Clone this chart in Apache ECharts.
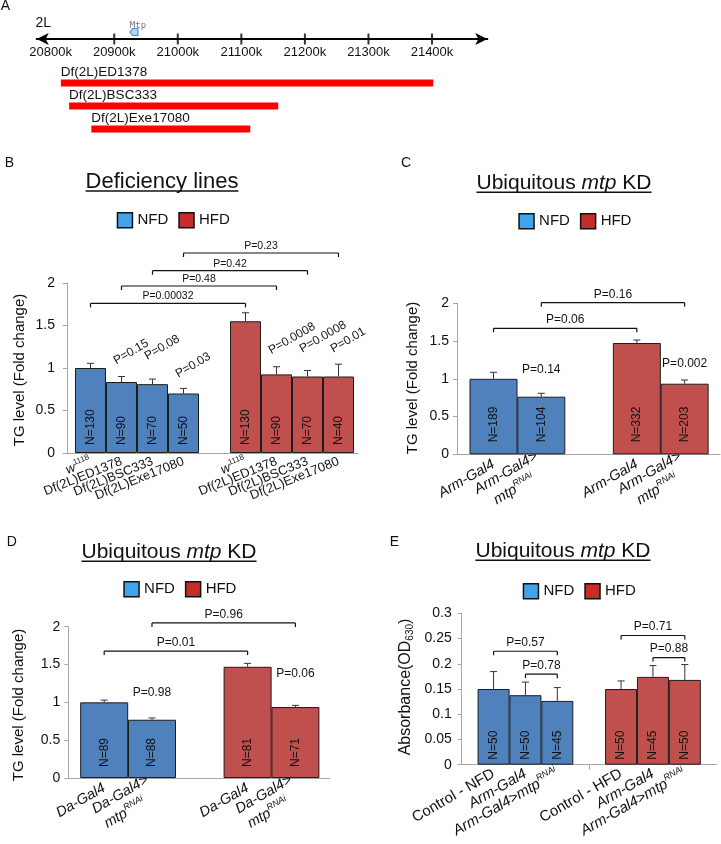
<!DOCTYPE html>
<html><head><meta charset="utf-8">
<script src="https://cdn.jsdelivr.net/npm/echarts@6/dist/echarts.min.js"></script>
<style>html,body{margin:0;padding:0;background:#fff}#c{width:721px;height:844px}</style>
</head><body><div id="c"></div>
<script>
// ---------- Panel A data ----------
const regionTicks = [20900, 21000, 21100, 21200, 21300, 21400];
const regionLabels = [20800, 20900, 21000, 21100, 21200, 21300, 21400];
const dfNames = ['Df(2L)ED1378', 'Df(2L)BSC333', 'Df(2L)Exe17080'];
const dfStart = [20816, 20829, 20864];
const dfEnd = [21402, 21158, 21114];
const mtpPos = 20931;

// ---------- Panel B data ----------
const bCats = ['w1118', 'Df(2L)ED1378', 'Df(2L)BSC333', 'Df(2L)Exe17080'];
const bNfd = [1.00, 0.835, 0.81, 0.70];
const bNfdErr = [0.055, 0.065, 0.06, 0.06];
const bHfd = [1.55, 0.925, 0.90, 0.90];
const bHfdErr = [0.10, 0.09, 0.07, 0.145];
const bNfdN = [130, 90, 70, 50];
const bHfdN = [130, 90, 70, 40];
const bNfdP = ['', 'P=0.15', 'P=0.08', 'P=0.03'];
const bNfdPy = [0, 1.015, 1.067, 0.859];
const bHfdP = ['', 'P=0.0008', 'P=0.0008', 'P=0.01'];
const bHfdPy = [0, 1.133, 1.153, 1.153];
const bPairP = ['P=0.00032', 'P=0.48', 'P=0.42', 'P=0.23'];
const bPairY = [1.76, 1.965, 2.145, 2.353];

// ---------- Panel C data ----------
const cCats = ['Arm-Gal4', 'Arm-Gal4>mtpRNAi'];
const cNfd = [1.00, 0.763];
const cNfdErr = [0.086, 0.045];
const cHfd = [1.474, 0.935];
const cHfdErr = [0.04, 0.049];
const cNfdN = [189, 104];
const cHfdN = [332, 203];
const cNfdP = ['', 'P=0.14'];
const cNfdPy = [0, 1.126];
const cHfdP = ['', 'P=0.002'];
const cHfdPy = [0, 1.205];
const cPairP = ['P=0.06', 'P=0.16'];
const cPairY = [1.669, 2.008];

// ---------- Panel D data ----------
const dCats = ['Da-Gal4', 'Da-Gal4>mtpRNAi'];
const dNfd = [1.00, 0.77];
const dNfdErr = [0.03, 0.023];
const dHfd = [1.47, 0.938];
const dHfdErr = [0.045, 0.022];
const dNfdN = [89, 88];
const dHfdN = [81, 71];
const dNfdP = ['', 'P=0.98'];
const dNfdPy = [0, 1.132];
const dHfdP = ['', 'P=0.06'];
const dHfdPy = [0, 1.374];
const dPairP = ['P=0.01', 'P=0.96'];
const dPairY = [1.678, 2.05];

// ---------- Panel E data ----------
const eCatsNfd = ['Control - NFD', 'Arm-Gal4', 'Arm-Gal4>mtpRNAi'];
const eCatsHfd = ['Control - HFD', 'Arm-Gal4', 'Arm-Gal4>mtpRNAi'];
const eNfd = [0.150, 0.1377, 0.1264];
const eNfdErr = [0.0345, 0.026, 0.0264];
const eHfd = [0.150, 0.174, 0.168];
const eHfdErr = [0.016, 0.0224, 0.0304];
const eNfdN = [50, 50, 45];
const eHfdN = [50, 45, 50];
const ePairIdx = [[0, 2], [1, 2]];
const eNfdPairP = ['P=0.57', 'P=0.78'];
const eNfdPairY = [0.2248, 0.1794];
const eHfdPairP = ['P=0.71', 'P=0.88'];
const eHfdPairY = [0.256, 0.2123];

// ---------- styling ----------
const FF = '"Liberation Sans", Arial, sans-serif';
const BLUE = '#4F81BD', RED = '#C0504D', LBLUE = '#41A3EC', LRED = '#C72C2A';
const INK = '#111', AXIS = '#A6A6A6', BORDER = '#1c1c1c';

const grids = [], xAxes = [], yAxes = [], series = [], legends = [], graphics = [];

// ---------- Panel A ----------
grids.push({left: 36.7, top: 20, width: 450.6, height: 19, outerBoundsMode: 'none'});
xAxes.push({gridIndex: 0, type: 'value', min: 20778, max: 21487,
  axisLine: {show: true, symbol: ['arrow', 'arrow'], symbolSize: [9, 12], lineStyle: {color: '#000', width: 2}},
  axisTick: {show: false}, splitLine: {show: false},
  axisLabel: {customValues: regionLabels, showMinLabel: true, showMaxLabel: true,
    formatter: v => v + 'k', fontSize: 13, color: INK, margin: 7, fontFamily: FF}});
yAxes.push({gridIndex: 0, type: 'value', min: 0, max: 1, show: false});
series.push({type: 'scatter', xAxisIndex: 0, yAxisIndex: 0, silent: true, clip: false,
  data: regionTicks.map(v => [v, 0]), symbol: 'rect', symbolSize: [2, 11], itemStyle: {color: '#000'}});
series.push({type: 'scatter', xAxisIndex: 0, yAxisIndex: 0, silent: true, clip: false,
  data: [[mtpPos, 0]], symbol: 'path://M0,5L4,0L12,0L12,10L4,10Z', symbolSize: [8, 7], symbolOffset: [0, -7],
  itemStyle: {color: '#9DCDF2', borderColor: '#2B6FC6', borderWidth: 1},
  label: {show: true, position: 'top', distance: 1, offset: [4, 3], formatter: 'Mtp',
    fontFamily: '"DejaVu Sans Mono", monospace', fontSize: 9, color: '#555'}});

grids.push({left: 36.7, top: 71.5, width: 450.6, height: 69, outerBoundsMode: 'none'});
xAxes.push({gridIndex: 1, type: 'value', min: 20778, max: 21487, show: false});
yAxes.push({gridIndex: 1, type: 'category', data: dfNames, inverse: true, show: false});
series.push({type: 'custom', xAxisIndex: 1, yAxisIndex: 1, silent: true,
  data: dfNames.map((n, i) => [dfStart[i], dfEnd[i], i]), encode: {x: [0, 1], y: 2},
  renderItem: (params, api) => {
    const s = api.coord([api.value(0), api.value(2)]);
    const e = api.coord([api.value(1), api.value(2)]);
    return {type: 'group', children: [
      {type: 'rect', shape: {x: s[0], y: s[1] - 3.5, width: e[0] - s[0], height: 7}, style: {fill: '#FF0000'}},
      {type: 'text', x: s[0], y: s[1] - 10.5, style: {text: dfNames[params.dataIndex], fontSize: 13.5,
        fontFamily: FF, fill: INK, align: 'left', verticalAlign: 'middle'}}
    ]};
  }});

// ---------- bar panel builder ----------
function barPanel(p) {
  const gi = grids.length;
  grids.push({left: p.left, top: p.top, width: p.width, height: p.height, outerBoundsMode: 'none'});
  xAxes.push({gridIndex: gi, type: 'value', min: p.xmin, max: p.xmax, splitLine: {show: false},
    axisLine: {show: true, onZero: false, lineStyle: {color: AXIS, width: 1}},
    axisTick: p.xTicks ? {show: true, customValues: p.xTicks, length: 5, lineStyle: {color: AXIS}} : {show: false},
    axisLabel: {show: false}});
  yAxes.push({gridIndex: gi, type: 'value', min: 0, max: p.ymax, interval: p.yInt, splitLine: {show: false},
    axisLine: {show: true, onZero: false, lineStyle: {color: AXIS}},
    axisTick: {show: true, length: 4, lineStyle: {color: AXIS}},
    axisLabel: {fontSize: 14, color: INK, margin: p.yMargin, fontFamily: FF, showMinLabel: true, showMaxLabel: true}});
  const common = {xAxisIndex: gi, yAxisIndex: gi, silent: true};
  series.push(Object.assign({type: 'bar', name: 'NFD', barWidth: p.bw, barGap: '-100%',
    data: p.nfdX.map((x, i) => [x, p.nfd[i]]),
    itemStyle: {color: BLUE, borderColor: BORDER, borderWidth: 1}}, common));
  series.push(Object.assign({type: 'bar', name: 'HFD', barWidth: p.bw, barGap: '-100%',
    data: p.hfdX.map((x, i) => [x, p.hfd[i]]),
    itemStyle: {color: RED, borderColor: BORDER, borderWidth: 1}}, common));
  // category labels under the axis (rotated, rich)
  const allX = p.nfdX.concat(p.hfdX);
  const allLabels = p.nfdLabels.concat(p.hfdLabels);
  series.push(Object.assign({type: 'custom', z: 4, data: allX.map(x => [x, 0]), encode: {x: 0, y: 1},
    renderItem: (params, api) => {
      const a = api.coord([api.value(0), 0]);
      return {type: 'text', x: a[0], y: a[1] + p.xMargin, rotation: p.rot * Math.PI / 180,
        style: {text: allLabels[params.dataIndex], rich: p.rich, fontSize: p.xFont, fontFamily: FF, fill: INK,
          align: 'right', verticalAlign: 'middle'}};
    }}, common));
  // error bars (upper)
  const errData = p.nfdX.map((x, i) => [x, p.nfd[i], p.nfd[i] + p.nfdErr[i]])
    .concat(p.hfdX.map((x, i) => [x, p.hfd[i], p.hfd[i] + p.hfdErr[i]]));
  series.push(Object.assign({type: 'custom', z: 3, data: errData, encode: {x: 0, y: [1, 2]},
    renderItem: (params, api) => {
      const a = api.coord([api.value(0), api.value(1)]);
      const b = api.coord([api.value(0), api.value(2)]);
      return {type: 'group', children: [
        {type: 'line', shape: {x1: a[0], y1: a[1], x2: b[0], y2: b[1]}, style: {stroke: '#333', lineWidth: 1}},
        {type: 'line', shape: {x1: b[0] - 3.5, y1: b[1], x2: b[0] + 3.5, y2: b[1]}, style: {stroke: '#333', lineWidth: 1}}
      ]};
    }}, common));
  // N labels
  const nText = p.nfdN.concat(p.hfdN).map(n => 'N=' + n);
  series.push(Object.assign({type: 'custom', z: 4, data: allX.map(x => [x, 0]), encode: {x: 0, y: 1},
    renderItem: (params, api) => {
      const a = api.coord([api.value(0), 0]);
      return {type: 'text', x: a[0], y: a[1] - p.nGap, rotation: Math.PI / 2,
        style: {text: nText[params.dataIndex], fontSize: 12, fontFamily: FF, fill: INK, align: 'left', verticalAlign: 'middle'}};
    }}, common));
  // single p-values
  const singles = [];
  p.nfdX.forEach((x, i) => { if (p.nfdP[i]) singles.push([x, p.nfdPy[i], p.nfdP[i]]); });
  p.hfdX.forEach((x, i) => { if (p.hfdP[i]) singles.push([x, p.hfdPy[i], p.hfdP[i]]); });
  if (singles.length) series.push(Object.assign({type: 'custom', z: 4, data: singles.map(s => [s[0], s[1]]), encode: {x: 0, y: 1},
    renderItem: (params, api) => {
      const a = api.coord([api.value(0), api.value(1)]);
      const rot = p.pRot || 0;
      return {type: 'text', x: a[0] + (rot ? p.pDx : 0), y: a[1], rotation: rot * Math.PI / 180,
        style: {text: singles[params.dataIndex][2], fontSize: 12, fontFamily: FF, fill: INK,
          align: rot ? 'left' : 'center', verticalAlign: rot ? 'bottom' : 'middle'}};
    }}, common));
  // brackets
  const pairs = p.pairs;
  series.push(Object.assign({type: 'custom', z: 4, data: pairs.map(q => [q[0], q[1], q[2]]), encode: {x: [0, 1], y: 2},
    renderItem: (params, api) => {
      const a = api.coord([api.value(0), api.value(2)]);
      const b = api.coord([api.value(1), api.value(2)]);
      const st = {stroke: INK, lineWidth: 1.2};
      return {type: 'group', children: [
        {type: 'line', shape: {x1: a[0], y1: a[1], x2: b[0], y2: b[1]}, style: st},
        {type: 'line', shape: {x1: a[0], y1: a[1], x2: a[0], y2: a[1] + 4}, style: st},
        {type: 'line', shape: {x1: b[0], y1: b[1], x2: b[0], y2: b[1] + 4}, style: st},
        {type: 'text', x: (a[0] + b[0]) / 2, y: a[1] - p.pairLift, style: {text: pairs[params.dataIndex][3],
          fontSize: p.pairFont, fontFamily: FF, fill: INK, align: 'center', verticalAlign: 'bottom'}}
      ]};
    }}, common));
  legends.push({left: p.legLeft, top: p.legTop, icon: 'rect', itemWidth: 15, itemHeight: 15, itemGap: 10,
    selectedMode: false, textStyle: {fontSize: 15, color: INK, fontFamily: FF},
    data: [{name: 'NFD', itemStyle: {color: LBLUE, borderColor: '#111', borderWidth: 1.5}},
           {name: 'HFD', itemStyle: {color: LRED, borderColor: '#111', borderWidth: 1.5}}]});
}

function richFor(size) {
  return {
    n: {fontSize: size, fontFamily: FF, fill: INK, color: INK, lineHeight: size + 4},
    i: {fontSize: size, fontFamily: FF, fill: INK, color: INK, fontStyle: 'italic', lineHeight: size + 4},
    sup: {fontSize: Math.round(size * 0.62), fontFamily: FF, fill: INK, color: INK, lineHeight: 10, verticalAlign: 'top'},
    supi: {fontSize: Math.round(size * 0.62), fontFamily: FF, fill: INK, color: INK, fontStyle: 'italic', lineHeight: 10, verticalAlign: 'top'},
    pad: {width: 14, fontSize: size, lineHeight: size + 4}
  };
}
function catLabel(c) {
  if (c === 'w1118') return '{i|w}{sup|1118}';
  if (c.endsWith('>mtpRNAi')) return '{i|' + c.replace('mtpRNAi', '') + '}\n{i|mtp}{supi|RNAi}{pad| }';
  if (c.startsWith('Df') || c.startsWith('Control')) return '{n|' + c + '}';
  return '{i|' + c + '}';
}
function catLabelOneLine(c) {
  if (c.endsWith('>mtpRNAi')) return '{i|' + c.replace('RNAi', '') + '}{supi|RNAi}';
  if (c.startsWith('Control')) return '{n|' + c + '}';
  return '{i|' + c + '}';
}

// Panel B
barPanel({left: 67, top: 283, width: 291, height: 170, xmin: -0.758, xmax: 8.629, ymax: 2, yInt: 0.5,
  nfdX: [0, 1, 2, 3], hfdX: [5, 6, 7, 8], nfd: bNfd, nfdErr: bNfdErr, hfd: bHfd, hfdErr: bHfdErr,
  nfdN: bNfdN, hfdN: bHfdN, nfdP: bNfdP, nfdPy: bNfdPy, hfdP: bHfdP, hfdPy: bHfdPy, pRot: 30, pDx: -4,
  pairs: bPairP.map((t, i) => [i, i + 5, bPairY[i], t]), pairFont: 10.5, pairLift: 1.5,
  nfdLabels: bCats.map(catLabel), hfdLabels: bCats.map(catLabel), rich: richFor(13), xFont: 13,
  bw: 31, nGap: 8, rot: 22, xMargin: 8, yMargin: 12, legLeft: 111.7, legTop: 207});
// Panel C
barPanel({left: 457, top: 303.3, width: 263, height: 151, xmin: -0.764, xmax: 4.74, ymax: 2, yInt: 0.5,
  nfdX: [0, 1], hfdX: [3, 4], nfd: cNfd, nfdErr: cNfdErr, hfd: cHfd, hfdErr: cHfdErr,
  nfdN: cNfdN, hfdN: cHfdN, nfdP: cNfdP, nfdPy: cNfdPy, hfdP: cHfdP, hfdPy: cHfdPy,
  pairs: cPairP.map((t, i) => [i, i + 3, cPairY[i], t]), pairFont: 12, pairLift: 2.5,
  nfdLabels: cCats.map(catLabel), hfdLabels: cCats.map(catLabel), rich: richFor(14.5), xFont: 14.5,
  bw: 48, nGap: 12, rot: 30, xMargin: 9, yMargin: 8, legLeft: 513.3, legTop: 208});
// Panel D
barPanel({left: 68.3, top: 626.7, width: 261.7, height: 151.3, xmin: -0.751, xmax: 4.724, ymax: 2, yInt: 0.5,
  nfdX: [0, 1], hfdX: [3, 4], nfd: dNfd, nfdErr: dNfdErr, hfd: dHfd, hfdErr: dHfdErr,
  nfdN: dNfdN, hfdN: dHfdN, nfdP: dNfdP, nfdPy: dNfdPy, hfdP: dHfdP, hfdPy: dHfdPy,
  pairs: dPairP.map((t, i) => [i, i + 3, dPairY[i], t]), pairFont: 12, pairLift: 2.5,
  nfdLabels: dCats.map(catLabel), hfdLabels: dCats.map(catLabel), rich: richFor(14.5), xFont: 14.5,
  bw: 48, nGap: 11, rot: 30, xMargin: 9, yMargin: 8, legLeft: 118.3, legTop: 576});
// Panel E
const eNfdX = [0, 1, 2], eHfdX = [4, 5, 6];
barPanel({left: 461.7, top: 613.3, width: 255, height: 151.4, xmin: -1, xmax: 7, ymax: 0.3, yInt: 0.05,
  nfdX: eNfdX, hfdX: eHfdX, nfd: eNfd, nfdErr: eNfdErr, hfd: eHfd, hfdErr: eHfdErr,
  nfdN: eNfdN, hfdN: eHfdN, nfdP: [], nfdPy: [], hfdP: [], hfdPy: [],
  pairs: ePairIdx.map((q, i) => [eNfdX[q[0]], eNfdX[q[1]], eNfdPairY[i], eNfdPairP[i]])
    .concat(ePairIdx.map((q, i) => [eHfdX[q[0]], eHfdX[q[1]], eHfdPairY[i], eHfdPairP[i]])),
  pairFont: 12, pairLift: 2.5, xTicks: [3],
  nfdLabels: eCatsNfd.map(catLabelOneLine), hfdLabels: eCatsHfd.map(catLabelOneLine), rich: richFor(15), xFont: 15,
  bw: 32, nGap: 5, rot: 30, xMargin: 8, yMargin: 10, legLeft: 517.7, legTop: 578});

// ---------- graphics: letters, titles, underlines, y titles ----------
const cv = document.createElement('canvas').getContext('2d');
function tw(t, size, italic) { cv.font = (italic ? 'italic ' : '') + size + 'px "Liberation Sans"'; return cv.measureText(t).width; }

[['A', 5.5, 6], ['B', 9.5, 163], ['C', 406, 163], ['D', 11.7, 541.7], ['E', 394.5, 542.5]].forEach(l => {
  graphics.push({type: 'text', x: l[1], y: l[2], style: {text: l[0], fontSize: 14, fontFamily: FF, fill: INK,
    align: 'center', verticalAlign: 'middle', textAlign: 'center', textVerticalAlign: 'middle'}});
});
graphics.push({type: 'text', x: 43.3, y: 23.3, style: {text: '2L', fontSize: 14, fontFamily: FF, fill: INK,
  align: 'center', verticalAlign: 'middle', textAlign: 'center', textVerticalAlign: 'middle'}});

function title(cx, cy, parts, size) {
  let w = 0;
  parts.forEach(pt => w += tw(pt[0], size, pt[1]));
  const txt = parts.map(pt => '{' + (pt[1] ? 'i' : 'n') + '|' + pt[0] + '}').join('');
  graphics.push({type: 'text', x: cx, y: cy, style: {text: txt, align: 'center', verticalAlign: 'middle',
    textAlign: 'center', textVerticalAlign: 'middle', fontSize: size, fontFamily: FF, fill: INK,
    rich: {n: {fontSize: size, fontFamily: FF, fill: INK, color: INK},
           i: {fontSize: size, fontFamily: FF, fontStyle: 'italic', fill: INK, color: INK}}}});
  graphics.push({type: 'line', shape: {x1: cx - w / 2, y1: cy + 9.3, x2: cx + w / 2, y2: cy + 9.3},
    style: {stroke: INK, lineWidth: 1.4}});
}
const ubq = [['Ubiquitous ', false], ['mtp', true], [' KD', false]];
title(162, 181.7, [['Deficiency lines', false]], 22);
title(564, 183, ubq, 21);
title(169, 552, ubq, 21);
title(563, 551, ubq, 21);

function ytitle(cx, cy, text, rich) {
  graphics.push({type: 'text', x: cx, y: cy, rotation: Math.PI / 2, style: {text: text, rich: rich,
    fontSize: 15, fontFamily: FF, fill: INK, align: 'center', verticalAlign: 'middle',
    textAlign: 'center', textVerticalAlign: 'middle'}});
}
ytitle(20, 370, 'TG level (Fold change)');
ytitle(413.3, 378, 'TG level (Fold change)');
ytitle(19.2, 705, 'TG level (Fold change)');
ytitle(405.3, 687, '{n|Absorbance(OD}{sub|630}{n|)}', {
  n: {fontSize: 16, fontFamily: FF, color: INK, fill: INK, lineHeight: 20},
  sub: {fontSize: 10, fontFamily: FF, color: INK, fill: INK, lineHeight: 10, verticalAlign: 'bottom'}});

const chart = echarts.init(document.getElementById('c'), null, {renderer: 'canvas'});
chart.setOption({
  animation: false, backgroundColor: '#fff', textStyle: {fontFamily: FF},
  grid: grids, xAxis: xAxes, yAxis: yAxes, legend: legends, series: series,
  graphic: {elements: graphics}
});
</script></body></html>
